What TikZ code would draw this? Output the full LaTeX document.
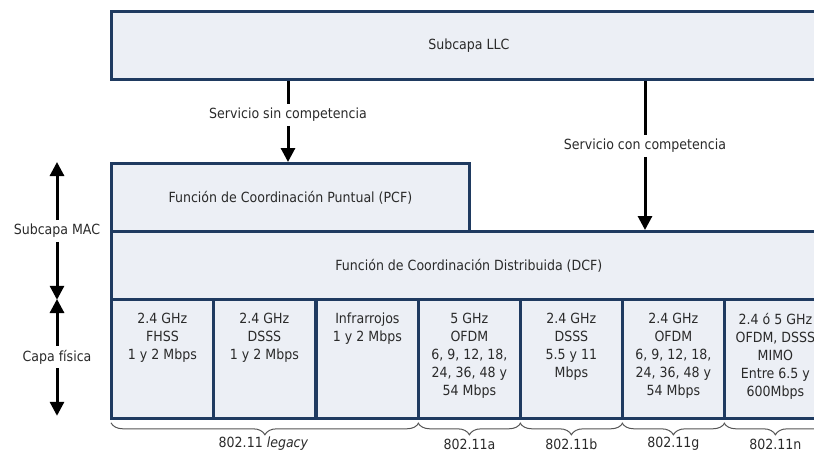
\documentclass[tikz,border=0pt]{standalone}
\usepackage{fontspec}
\setmainfont{DejaVu Sans Condensed}
\usetikzlibrary{arrows.meta,decorations.pathreplacing}
\definecolor{boxfill}{HTML}{ECEFF5}
\definecolor{boxline}{HTML}{1F3A60}
\definecolor{txt}{HTML}{2A2A2A}
\definecolor{bracecol}{HTML}{555555}

\begin{document}
\begin{tikzpicture}[x=1pt,y=-1pt,
  font=\fontsize{14}{18}\selectfont\color{txt},
  layerbox/.style={draw=boxline, line width=2.8pt, fill=boxfill,
    anchor=north west, inner sep=0pt, minimum height=#1},
  cellbox/.style={layerbox=119pt, minimum width=102pt},
  celltext/.style={anchor=north, align=center, inner sep=0pt, yshift=-15pt},
  shaft/.style={draw=black, line width=3pt},
  arrowline/.style={shaft, -{Triangle[length=14pt,width=14pt]}},
  lbl/.style={inner sep=4pt},
  stdbrace/.style={draw=bracecol, line width=1pt,
    decorate, decoration={brace, amplitude=12pt}}]
\useasboundingbox (0,0) rectangle (814,453);
\clip (0,0) rectangle (814,453);

% upper layer
\node[layerbox=68pt, minimum width=715pt] (llc) at (110,10) {};
\node at (llc.center) {Subcapa LLC};

% MAC sublayer
\node[layerbox=68pt, minimum width=358pt] (pcf) at (110,162) {};
\node at (pcf.center) {Función de Coordinación Puntual (PCF)};
\node[layerbox=68pt, minimum width=715pt] (dcf) at (110,230) {};
\node at (dcf.center) {Función de Coordinación Distribuida (DCF)};

% physical layer cells
\node[cellbox] (c1) at (110,298) {};
\node[cellbox] (c2) at (212,298) {};
\node[cellbox] (c3) at (315,298) {};
\node[cellbox] (c4) at (417,298) {};
\node[cellbox] (c5) at (519,298) {};
\node[cellbox] (c6) at (621,298) {};
\node[cellbox] (c7) at (723,298) {};

\node[celltext] (t1) at (c1.north) {2.4 GHz\\FHSS\\1 y 2 Mbps};
\node[celltext] (t2) at (c2.north) {2.4 GHz\\DSSS\\1 y 2 Mbps};
\node[celltext] (t3) at (c3.north) {Infrarrojos\\1 y 2 Mbps};
\node[celltext] (t4) at (c4.north) {5 GHz\\OFDM\\6, 9, 12, 18,\\24, 36, 48 y\\54 Mbps};
\node[celltext] (t5) at (c5.north) {2.4 GHz\\DSSS\\5.5 y 11\\Mbps};
\node[celltext] (t6) at (c6.north) {2.4 GHz\\OFDM\\6, 9, 12, 18,\\24, 36, 48 y\\54 Mbps};
\node[celltext] (t7) at (c7.north) {2.4 ó 5 GHz\\OFDM, DSSS\\MIMO\\Entre 6.5 y\\600Mbps};

% services from LLC
\node[lbl] (s1) at (288,115) {Servicio sin competencia};
\draw[shaft] (s1 |- llc.south) -- (s1.north);
\draw[arrowline] (s1.south) -- (s1 |- pcf.north);
\node[lbl] (s2) at (645,146) {Servicio con competencia};
\draw[shaft] (s2 |- llc.south) -- (s2.north);
\draw[arrowline] (s2.south) -- (s2 |- dcf.north);

% layer extents on the left
\node[lbl] (mac) at (57,231) {Subcapa MAC};
\draw[arrowline] (mac.north) -- (mac |- pcf.north);
\draw[arrowline, shorten >=1pt] (mac.south) -- (mac |- dcf.south);
\node[lbl] (phy) at (57,357) {Capa física};
\draw[arrowline, shorten >=1pt] (phy.north) -- (phy |- c1.north);
\draw[arrowline, shorten >=4pt] (phy.south) -- (phy |- c1.south);

% standard groups
\draw[stdbrace] ([xshift=-1pt,yshift=-3pt]c3.south east) -- ([xshift=1pt,yshift=-3pt]c1.south west);
\draw[stdbrace] ([xshift=-1pt,yshift=-3pt]c4.south east) -- ([xshift=1pt,yshift=-3pt]c4.south west);
\draw[stdbrace] ([xshift=-1pt,yshift=-3pt]c5.south east) -- ([xshift=1pt,yshift=-3pt]c5.south west);
\draw[stdbrace] ([xshift=-1pt,yshift=-3pt]c6.south east) -- ([xshift=1pt,yshift=-3pt]c6.south west);
\draw[stdbrace] ([xshift=-1pt,yshift=-3pt]c7.south east) -- ([xshift=1pt,yshift=-3pt]c7.south west);

\node (g1) at (263.5,444) {802.11 \textit{legacy}};
\node (g2) at (c4.south |- g1) {802.11a};
\node (g3) at (c5.south |- g1) {802.11b};
\node (g4) at (c6.south |- g1) {802.11g};
\node (g5) at (c7.south |- g1) {802.11n};
\end{tikzpicture}
\end{document}
